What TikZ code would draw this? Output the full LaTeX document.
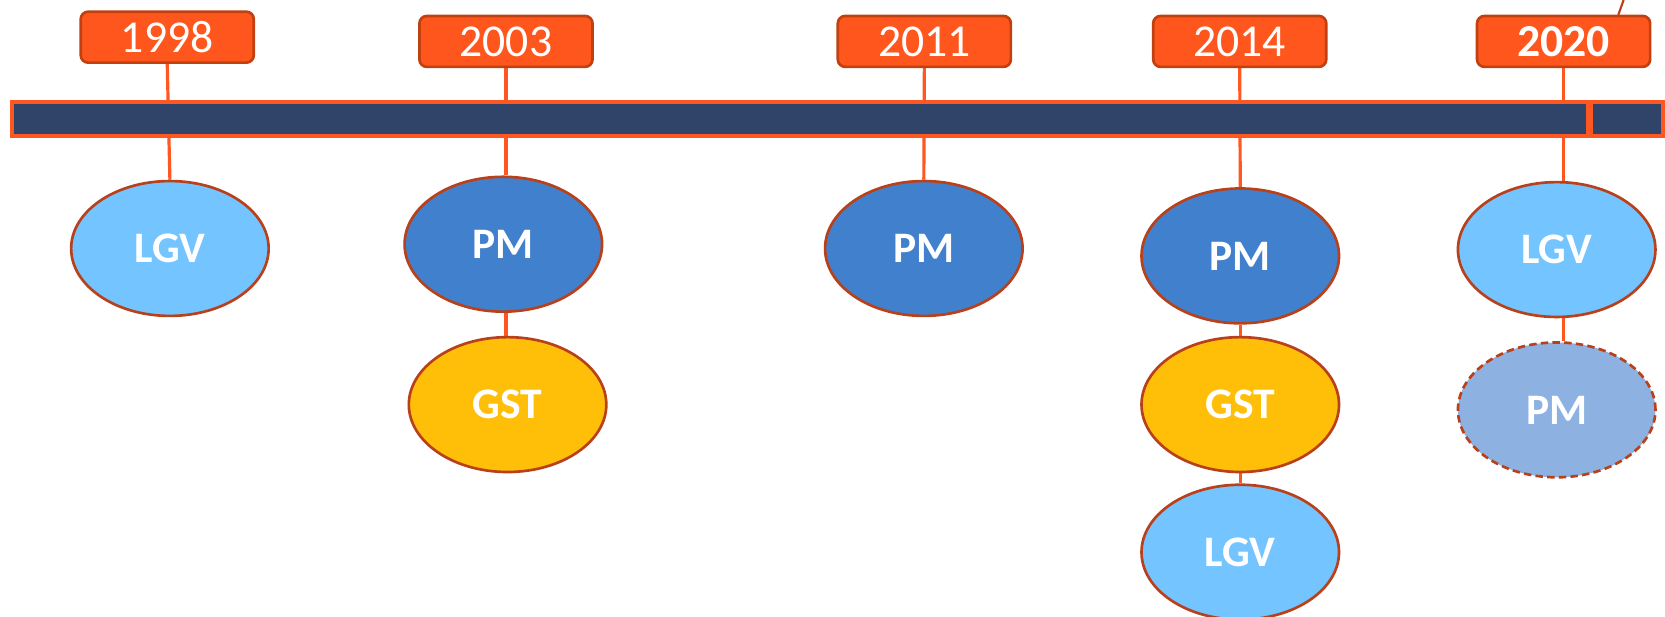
\documentclass[tikz,border=0pt]{standalone}
\usepackage{fontspec}
\setmainfont{Carlito}
\usetikzlibrary{shapes.geometric,backgrounds}
\definecolor{yearfill}{HTML}{FF561E}
\definecolor{yearedge}{HTML}{C0400F}
\definecolor{conn}{HTML}{FF5722}
\definecolor{barfill}{HTML}{30446A}
\definecolor{lgvfill}{HTML}{74C4FF}
\definecolor{pmfill}{HTML}{4180CD}
\definecolor{gstfill}{HTML}{FFBF09}
\definecolor{pmlight}{HTML}{8DB1E1}
\definecolor{ovedge}{HTML}{B8401A}
\begin{document}
\begin{tikzpicture}[x=1pt,y=-1pt,
  yearbox/.style={rectangle, rounded corners=7pt, draw=yearedge, line width=2.5pt, fill=yearfill,
    minimum width=163pt, minimum height=48pt, inner sep=0pt, text=white,
    font=\fontsize{43}{50}\selectfont},
  oval/.style={ellipse, draw=ovedge, line width=2.5pt, minimum width=186pt, minimum height=127pt,
    inner sep=0pt, text=white, font=\fontsize{41}{48}\selectfont\bfseries},
  lgv/.style={oval, fill=lgvfill},
  pmo/.style={oval, fill=pmfill},
  gst/.style={oval, fill=gstfill},
  pmdash/.style={oval, fill=pmlight, dash pattern=on 7pt off 4pt},
  link/.style={draw=conn, line width=3pt},
  timebar/.style={rectangle, draw=conn, line width=4pt, fill=barfill, minimum width=1555pt,
    minimum height=32pt, inner sep=0pt}]
\useasboundingbox (0,0) rectangle (1568,581);

% year boxes
\node[yearbox] (y1998) at (157.5,35) {1998};
\node[yearbox] (y2003) at (476.5,39) {2003};
\node[yearbox] (y2011) at (870.5,39) {2011};
\node[yearbox] (y2014) at (1167.5,39) {2014};
\node[yearbox, font=\fontsize{43}{50}\selectfont\bfseries] (y2020) at (1472.5,39) {2020};

% ovals
\node[lgv] (e1998) at (160,234) {LGV};
\node[pmo] (p2003) at (474,230) {PM};
\node[gst] (g2003) at (478,381) {GST};
\node[pmo] (p2011) at (870,234) {PM};
\node[pmo] (p2014) at (1168,241) {PM};
\node[gst] (g2014) at (1168,381) {GST};
\node[lgv] (l2014) at (1168,520) {LGV};
\node[lgv] (l2020) at (1466,235) {LGV};
\node[pmdash] (p2020) at (1466,386) {PM};

% time bar
\node[timebar] (bar) at (788.5,112) {};
\coordinate (div) at (1497,112);
\draw[draw=conn, line width=7pt] ([yshift=-2pt]div |- bar.north) -- ([yshift=2pt]div |- bar.south);

% connectors (behind)
\begin{pgfonlayer}{background}
\draw[link] (y1998.south) -- (e1998.north);
\draw[link] (y2003.south) -- (y2003.south |- p2003.north);
\draw[link] (y2003.south |- p2003.south) -- (y2003.south |- g2003.north);
\draw[link] (y2011.south) -- (p2011.north);
\draw[link] (y2014.south) -- (p2014.north);
\draw[link] (p2014) -- (g2014);
\draw[link] (g2014) -- (l2014);
\draw[link] (y2020.south) -- (y2020.south |- l2020.north);
\draw[link] (y2020.south |- l2020.south) -- (y2020.south |- p2020.north);
\end{pgfonlayer}

% small stray line at top right
\coordinate (tr1) at (1529,0);
\coordinate (tr2) at (1524,14);
\draw[draw=ovedge, line width=2pt] (tr1) -- (tr2);
\end{tikzpicture}
\end{document}
